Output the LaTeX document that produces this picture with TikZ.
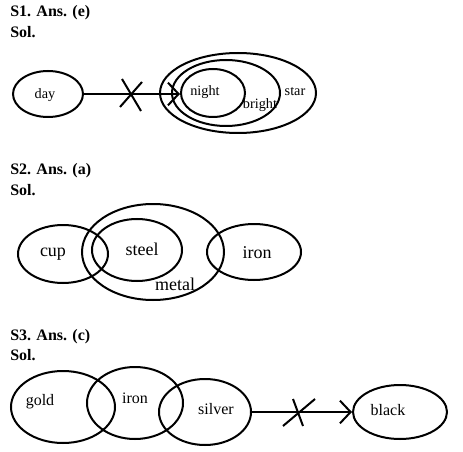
\documentclass[tikz,border=0pt]{standalone}
\usepackage{fontspec}
\setmainfont{Liberation Serif}
\usetikzlibrary{shapes.geometric,arrows.meta,calc}
\tikzset{
  oval/.style 2 args={draw,ellipse,line width=1.5pt,inner sep=0pt,
    minimum width={1.5pt*#1},minimum height={1.5pt*#2}},
  lbl/.style={font=\fontsize{#1}{#1}\selectfont},
  lbl/.default=10.7,
  head/.style={anchor=west,inner sep=0pt,font=\fontsize{12}{14}\selectfont\bfseries},
  link/.style={line width=1.5pt,-{Straight Barb[length=8pt,width=17pt,line width=1.5pt]}},
  cut/.style={line width=1.5pt}
}
\begin{document}
\begin{tikzpicture}[x=0.75pt,y=0.75pt,yscale=-1]
\useasboundingbox (0,0) rectangle (463,452);

% Text Node
\node[head] (h1) at (10,13) {S1. Ans. (e)};
\node[head] (s1) at (10,32) {Sol.};

%Shape: Ellipse
\node[oval={35}{23}] (day) at (48,94) {};
\node[oval={32}{24}] (night) at (213,93) {};
\node[oval={54}{33}] (bright) at (226,93) {};
\node[oval={78}{40}] (star) at (238,93) {};

%Straight Lines
\draw[link] (day.east) -- (day.east -| night.west);
\coordinate (x1) at ($(day.east)!0.5!(day.east -| night.west)$);
\draw[cut] ([shift={(-10,-15)}]x1) -- ([shift={(9,17)}]x1);
\draw[cut] ([shift={(10,-12)}]x1) -- ([shift={(-12,13)}]x1);

% Text Node
\node[lbl] (tday) at (45,95) {day};
\node[lbl] (tnight) at (205,92) {night};
\node[lbl] (tbright) at (260,105) {bright};
\node[lbl] (tstar) at (295,92) {star};

% Text Node
\node[head] (h2) at (10,171) {S2. Ans. (a)};
\node[head] (s2) at (10,190) {Sol.};

%Shape: Ellipse
\node[oval={45}{29}] (cup) at (63,254) {};
\node[oval={71}{48}] (metal) at (153,252) {};
\node[oval={45}{31}] (steel) at (137,250) {};
\node[oval={47}{28}] (iron) at (254,252) {};

% Text Node
\node[lbl=13.5] (tcup) at (53,254) {cup};
\node[lbl=13.5] (tsteel) at (142,249) {steel};
\node[lbl=13.5] (tiron) at (257,253) {iron};
\node[lbl=13.5] (tmetal) at (175,284) {metal};

% Text Node
\node[head] (h3) at (10,337) {S3. Ans. (c)};
\node[head] (s3) at (10,355) {Sol.};

%Shape: Ellipse
\node[oval={52}{36}] (gold) at (63,407) {};
\node[oval={48}{36}] (ironb) at (135,403) {};
\node[oval={46}{33}] (silver) at (205,412) {};
\node[oval={47}{27}] (black) at (400,412) {};

%Straight Lines
\draw[link] (silver.east) -- (silver.east -| black.west);
\coordinate (x3) at ($(silver.east)!0.46!(silver.east -| black.west)$);
\draw[cut] ([shift={(-15,14)}]x3) -- ([shift={(17,-13)}]x3);
\draw[cut] ([shift={(-5,-13)}]x3) -- ([shift={(5,14)}]x3);

% Text Node
\node[lbl=12] (tgold) at (40,402) {gold};
\node[lbl=12] (tironb) at (135,398) {iron};
\node[lbl=12] (tsilver) at (216,409) {silver};
\node[lbl=12] (tblack) at (388,410) {black};

\end{tikzpicture}
\end{document}
